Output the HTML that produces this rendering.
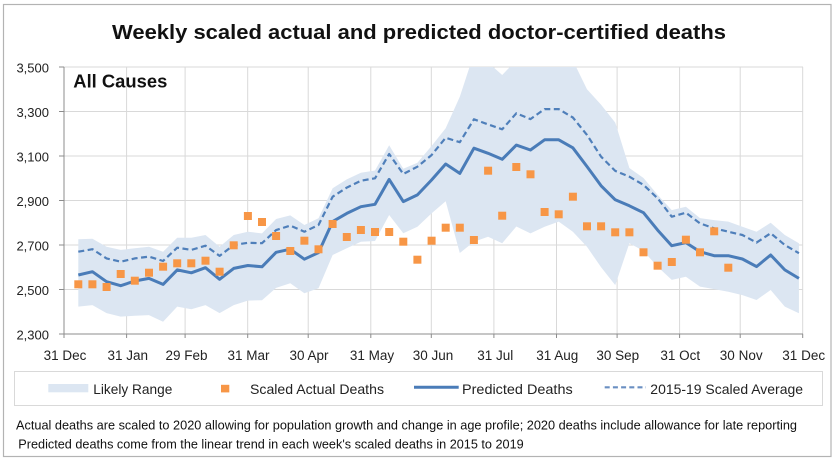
<!DOCTYPE html>
<html>
<head>
<meta charset="utf-8">
<style>
html,body{margin:0;padding:0;background:#fff;}
svg{display:block;}
text{font-family:"Liberation Sans",Arial,sans-serif;}
</style>
</head>
<body>
<svg width="837" height="463" viewBox="0 0 837 463" xmlns="http://www.w3.org/2000/svg">
<defs>
<clipPath id="plot"><rect x="64" y="67" width="739" height="267"/></clipPath>
</defs>
<rect x="0" y="0" width="837" height="463" fill="#fff"/>
<rect x="3.5" y="4.5" width="827.5" height="452" fill="#fff" stroke="#b3b3b3" stroke-width="1.2"/>

<text x="112" y="39" font-size="20" font-weight="bold" fill="#111" textLength="614" lengthAdjust="spacingAndGlyphs">Weekly scaled actual and predicted doctor-certified deaths</text>

<!-- gridlines -->
<g stroke="#d9d9d9" stroke-width="1" fill="none">
<line x1="64" y1="67" x2="803" y2="67"/>
<line x1="64" y1="111.5" x2="803" y2="111.5"/>
<line x1="64" y1="156" x2="803" y2="156"/>
<line x1="64" y1="200.5" x2="803" y2="200.5"/>
<line x1="64" y1="245" x2="803" y2="245"/>
<line x1="64" y1="289.5" x2="803" y2="289.5"/>
<line x1="126.6" y1="67" x2="126.6" y2="334"/>
<line x1="185.1" y1="67" x2="185.1" y2="334"/>
<line x1="247.7" y1="67" x2="247.7" y2="334"/>
<line x1="308.2" y1="67" x2="308.2" y2="334"/>
<line x1="370.8" y1="67" x2="370.8" y2="334"/>
<line x1="431.3" y1="67" x2="431.3" y2="334"/>
<line x1="493.9" y1="67" x2="493.9" y2="334"/>
<line x1="556.5" y1="67" x2="556.5" y2="334"/>
<line x1="617.1" y1="67" x2="617.1" y2="334"/>
<line x1="679.6" y1="67" x2="679.6" y2="334"/>
<line x1="740.2" y1="67" x2="740.2" y2="334"/>
<line x1="802.7" y1="67" x2="802.7" y2="334"/>
</g>

<!-- likely range band -->
<g clip-path="url(#plot)">
<polygon fill="#dce6f2" points="78.3,239.2 92.43,238.8 106.56,246.8 120.69,249.9 134.82,248.3 148.95,246.8 163.08,251.7 177.21,237.7 191.34,237.7 205.47,235.0 219.6,246.8 233.73,235.0 247.86,231.7 261.99,233.4 276.12,219.0 290.25,215.4 304.38,225.0 318.51,218.3 332.64,188.3 346.77,179.4 360.9,172.7 375.03,170.5 389.16,145.3 403.29,168.7 417.42,162.7 431.55,146.0 445.68,128.2 459.81,96.8 473.94,53.6 488.07,62.5 502.2,75.0 516.33,60.3 530.46,64.8 544.59,53.6 558.72,58.1 572.85,60.3 586.98,89.3 601.11,104.8 615.24,122.6 629.37,168.0 643.5,178.0 657.63,194.9 671.76,210.1 685.89,206.7 700.02,218.1 714.15,220.1 728.28,221.6 742.41,226.8 756.54,231.7 770.67,222.8 784.8,235.0 798.93,243.2 798.93,313.3 784.8,306.6 770.67,290.0 756.54,300.0 742.41,295.1 728.28,291.7 714.15,289.1 700.02,286.6 685.89,276.8 671.76,279.9 657.63,266.8 643.5,251.0 629.37,243.2 615.24,285.1 601.11,267.3 586.98,246.8 572.85,231.7 558.72,221.6 544.59,226.8 530.46,233.4 516.33,226.5 502.2,243.2 488.07,236.8 473.94,241.7 459.81,253.0 445.68,201.2 431.55,213.4 417.42,226.8 403.29,233.2 389.16,215.0 375.03,241.0 360.9,241.7 346.77,248.3 332.64,255.0 318.51,288.2 304.38,293.3 290.25,283.3 276.12,287.9 261.99,300.2 247.86,300.6 233.73,305.1 219.6,313.1 205.47,305.1 191.34,309.3 177.21,306.6 163.08,321.8 148.95,315.1 134.82,315.8 120.69,316.6 106.56,313.1 92.43,305.1 78.3,306.6"/>
</g>

<!-- axes -->
<g stroke="#8c8c8c" stroke-width="1" fill="none">
<line x1="64" y1="67" x2="64" y2="334"/>
<line x1="64" y1="334" x2="803" y2="334"/>
<line x1="59" y1="67" x2="64" y2="67"/>
<line x1="59" y1="111.5" x2="64" y2="111.5"/>
<line x1="59" y1="156" x2="64" y2="156"/>
<line x1="59" y1="200.5" x2="64" y2="200.5"/>
<line x1="59" y1="245" x2="64" y2="245"/>
<line x1="59" y1="289.5" x2="64" y2="289.5"/>
<line x1="59" y1="334" x2="64" y2="334"/>
<line x1="64" y1="334" x2="64" y2="338"/>
<line x1="126.6" y1="334" x2="126.6" y2="338"/>
<line x1="185.1" y1="334" x2="185.1" y2="338"/>
<line x1="247.7" y1="334" x2="247.7" y2="338"/>
<line x1="308.2" y1="334" x2="308.2" y2="338"/>
<line x1="370.8" y1="334" x2="370.8" y2="338"/>
<line x1="431.3" y1="334" x2="431.3" y2="338"/>
<line x1="493.9" y1="334" x2="493.9" y2="338"/>
<line x1="556.5" y1="334" x2="556.5" y2="338"/>
<line x1="617.1" y1="334" x2="617.1" y2="338"/>
<line x1="679.6" y1="334" x2="679.6" y2="338"/>
<line x1="740.2" y1="334" x2="740.2" y2="338"/>
<line x1="802.7" y1="334" x2="802.7" y2="338"/>
</g>

<!-- dashed average -->
<polyline fill="none" stroke="#4f7fba" stroke-width="2.2" stroke-dasharray="6,3.5" stroke-linejoin="round" points="78.3,251.7 92.43,249.2 106.56,258.4 120.69,261.7 134.82,258.4 148.95,256.6 163.08,261.0 177.21,247.7 191.34,249.9 205.47,245.7 219.6,255.9 233.73,245.0 247.86,242.8 261.99,243.2 276.12,230.1 290.25,225.6 304.38,231.7 318.51,225.0 332.64,196.7 346.77,187.6 360.9,180.7 375.03,178.3 389.16,154.0 403.29,174.0 417.42,166.7 431.55,155.1 445.68,137.8 459.81,142.2 473.94,119.3 488.07,124.4 502.2,129.3 516.33,113.3 530.46,119.1 544.59,109.1 558.72,109.1 572.85,117.5 586.98,134.9 601.11,156.7 615.24,170.9 629.37,176.7 643.5,184.9 657.63,198.3 671.76,216.7 685.89,212.7 700.02,223.4 714.15,228.3 728.28,231.7 742.41,235.0 756.54,242.6 770.67,233.2 784.8,245.0 798.93,253.2"/>

<!-- predicted -->
<polyline fill="none" stroke="#4a7cb8" stroke-width="3" stroke-linejoin="round" points="78.3,275.0 92.43,271.7 106.56,281.7 120.69,285.7 134.82,281.0 148.95,278.4 163.08,284.4 177.21,269.9 191.34,272.8 205.47,267.7 219.6,279.3 233.73,268.4 247.86,265.5 261.99,266.8 276.12,252.3 290.25,249.2 304.38,259.2 318.51,252.6 332.64,221.6 346.77,213.4 360.9,206.7 375.03,204.3 389.16,179.4 403.29,201.6 417.42,194.9 431.55,180.0 445.68,164.0 459.81,173.4 473.94,148.2 488.07,153.3 502.2,159.3 516.33,145.1 530.46,150.0 544.59,139.8 558.72,139.8 572.85,147.8 586.98,166.5 601.11,185.8 615.24,199.8 629.37,205.8 643.5,212.7 657.63,230.1 671.76,245.7 685.89,242.6 700.02,251.7 714.15,255.7 728.28,255.7 742.41,259.0 756.54,266.6 770.67,255.0 784.8,269.9 798.93,278.4"/>

<!-- actual deaths markers -->
<g fill="#f79646">
<rect x="74.3" y="280.3" width="8" height="8"/>
<rect x="88.4" y="280.3" width="8" height="8"/>
<rect x="102.6" y="283.0" width="8" height="8"/>
<rect x="116.7" y="270.0" width="8" height="8"/>
<rect x="130.8" y="276.7" width="8" height="8"/>
<rect x="145.0" y="268.7" width="8" height="8"/>
<rect x="159.1" y="262.7" width="8" height="8"/>
<rect x="173.2" y="259.3" width="8" height="8"/>
<rect x="187.3" y="259.3" width="8" height="8"/>
<rect x="201.5" y="256.7" width="8" height="8"/>
<rect x="215.6" y="267.7" width="8" height="8"/>
<rect x="229.7" y="241.3" width="8" height="8"/>
<rect x="243.9" y="212.0" width="8" height="8"/>
<rect x="258.0" y="218.0" width="8" height="8"/>
<rect x="272.1" y="232.0" width="8" height="8"/>
<rect x="286.3" y="247.0" width="8" height="8"/>
<rect x="300.4" y="236.7" width="8" height="8"/>
<rect x="314.5" y="245.3" width="8" height="8"/>
<rect x="328.6" y="220.0" width="8" height="8"/>
<rect x="342.8" y="233.0" width="8" height="8"/>
<rect x="356.9" y="226.0" width="8" height="8"/>
<rect x="371.0" y="228.0" width="8" height="8"/>
<rect x="385.2" y="228.0" width="8" height="8"/>
<rect x="399.3" y="237.7" width="8" height="8"/>
<rect x="413.4" y="255.7" width="8" height="8"/>
<rect x="427.6" y="236.7" width="8" height="8"/>
<rect x="441.7" y="223.7" width="8" height="8"/>
<rect x="455.8" y="223.7" width="8" height="8"/>
<rect x="469.9" y="236.0" width="8" height="8"/>
<rect x="484.1" y="166.7" width="8" height="8"/>
<rect x="498.2" y="211.7" width="8" height="8"/>
<rect x="512.3" y="163.0" width="8" height="8"/>
<rect x="526.5" y="170.3" width="8" height="8"/>
<rect x="540.6" y="208.0" width="8" height="8"/>
<rect x="554.7" y="210.3" width="8" height="8"/>
<rect x="568.9" y="192.7" width="8" height="8"/>
<rect x="583.0" y="222.3" width="8" height="8"/>
<rect x="597.1" y="222.3" width="8" height="8"/>
<rect x="611.2" y="228.3" width="8" height="8"/>
<rect x="625.4" y="228.3" width="8" height="8"/>
<rect x="639.5" y="248.3" width="8" height="8"/>
<rect x="653.6" y="261.7" width="8" height="8"/>
<rect x="667.8" y="258.0" width="8" height="8"/>
<rect x="681.9" y="235.7" width="8" height="8"/>
<rect x="696.0" y="248.3" width="8" height="8"/>
<rect x="710.2" y="227.3" width="8" height="8"/>
<rect x="724.3" y="263.7" width="8" height="8"/>
</g>

<text x="73.3" y="87.3" font-size="18" font-weight="bold" fill="#111" textLength="94" lengthAdjust="spacingAndGlyphs">All Causes</text>

<!-- y labels -->
<g font-size="13" fill="#222" text-anchor="end">
<text x="49" y="72.5">3,500</text>
<text x="49" y="117">3,300</text>
<text x="49" y="161.5">3,100</text>
<text x="49" y="206">2,900</text>
<text x="49" y="250.5">2,700</text>
<text x="49" y="295">2,500</text>
<text x="49" y="339.5">2,300</text>
</g>

<!-- x labels -->
<g font-size="13.5" fill="#222" text-anchor="middle">
<text x="65" y="360">31 Dec</text>
<text x="127.8" y="360">31 Jan</text>
<text x="186.5" y="360">29 Feb</text>
<text x="248.5" y="360">31 Mar</text>
<text x="309" y="360">30 Apr</text>
<text x="372" y="360">31 May</text>
<text x="433" y="360">30 Jun</text>
<text x="495.3" y="360">31 Jul</text>
<text x="557.3" y="360">31 Aug</text>
<text x="617.8" y="360">30 Sep</text>
<text x="680.3" y="360">31 Oct</text>
<text x="741.2" y="360">30 Nov</text>
<text x="803.7" y="360">31 Dec</text>
</g>

<!-- legend -->
<rect x="14.5" y="371.5" width="808" height="34" fill="#fff" stroke="#d9d9d9" stroke-width="1"/>
<rect x="48.3" y="384" width="40" height="8.3" fill="#dce6f2"/>
<text x="93.3" y="394" font-size="14" fill="#222" textLength="79" lengthAdjust="spacingAndGlyphs">Likely Range</text>
<rect x="221" y="384.8" width="8.3" height="7.6" fill="#f79646"/>
<text x="250" y="394" font-size="14" fill="#222" textLength="134" lengthAdjust="spacingAndGlyphs">Scaled Actual Deaths</text>
<line x1="414" y1="387.3" x2="458.7" y2="387.3" stroke="#4a7cb8" stroke-width="3"/>
<text x="462" y="394" font-size="14" fill="#222" textLength="110.7" lengthAdjust="spacingAndGlyphs">Predicted Deaths</text>
<line x1="604.7" y1="387.3" x2="646" y2="387.3" stroke="#6a8fc2" stroke-width="2.2" stroke-dasharray="5,3.2"/>
<text x="650.3" y="394" font-size="14" fill="#222" textLength="152.7" lengthAdjust="spacingAndGlyphs">2015-19 Scaled Average</text>

<!-- footnotes -->
<text x="16" y="429.3" font-size="12.5" fill="#111" textLength="781" lengthAdjust="spacingAndGlyphs">Actual deaths are scaled to 2020 allowing for population growth and change in age profile; 2020 deaths include allowance for late reporting</text>
<text x="18.3" y="448.3" font-size="12.5" fill="#111" textLength="505.4" lengthAdjust="spacingAndGlyphs">Predicted deaths come from the linear trend in each week's scaled deaths in 2015 to 2019</text>
</svg>
</body>
</html>
